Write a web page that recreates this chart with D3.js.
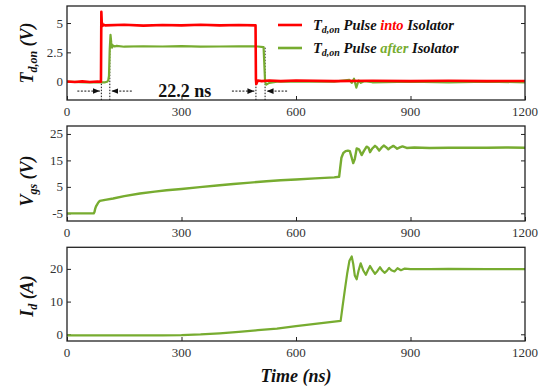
<!DOCTYPE html>
<html>
<head>
<meta charset="utf-8">
<script src="https://cdn.jsdelivr.net/npm/d3@7"></script>
<style>
  html, body { margin: 0; padding: 0; background: #fff; }
  svg { display: block; }
</style>
</head>
<body>
<svg id="chart" width="548" height="390" font-family="'Liberation Serif', 'DejaVu Serif', serif"></svg>
<script>
// ---- data (time in ns) ----
const xTicks = [0, 300, 600, 900, 1200];

// gate pulse into the isolator (V)
const pulseInT = [0, 20, 40, 60, 80, 89, 90, 91, 93, 96, 100, 150, 200, 250, 300, 350, 400, 450, 494, 495, 496, 500, 510, 530, 560, 600, 700, 800, 900, 1000, 1100, 1200];
const pulseInV = [0.02, -0.03, 0.03, -0.02, 0.01, 0.0, 5.95, 5.1, 4.75, 4.85, 4.8, 4.85, 4.78, 4.83, 4.8, 4.85, 4.8, 4.83, 4.8, 0.2, -0.2, 0.1, 0.05, 0.1, 0.05, 0.1, 0.05, 0.08, 0.05, 0.08, 0.05, 0.06];

// gate pulse after the isolator (V)
const pulseOutT = [0, 50, 100, 105, 108, 110, 112, 114, 116, 118, 120, 125, 130, 150, 200, 250, 300, 350, 400, 450, 500, 515, 517, 519, 522, 530, 550, 600, 700, 740, 746, 752, 758, 764, 770, 780, 800, 900, 1000, 1100, 1200];
const pulseOutV = [0, -0.05, -0.05, 0, 0.1, 0.5, 2.8, 4.0, 3.3, 2.9, 3.1, 3.0, 3.05, 2.98, 3.02, 3.0, 3.03, 2.98, 3.0, 3.02, 3.0, 2.95, 1.5, 0.0, -0.25, -0.1, 0.0, 0.0, 0.0, 0.15, -0.1, 0.25, -0.5, 0.1, -0.1, 0.05, -0.05, 0.0, -0.05, 0.0, -0.05];
const pulseTicks = [0, 2.5, 5];

// measured turn-on delay edges
const delayEdges = [[90, 112.2], [495, 519]];
const delayLabel = "22.2 ns";

// gate-source voltage (V)
const vgsT = [0, 40, 70, 72, 74, 76, 78, 82, 86, 100, 121, 150, 191, 230, 261, 300, 348, 400, 436, 480, 523, 560, 600, 650, 700, 713, 716, 719, 724, 730, 736, 741, 746, 750, 754, 759, 765, 772, 778, 785, 790, 794, 800, 807, 812, 818, 824, 830, 836, 842, 848, 855, 860, 865, 872, 879, 890, 910, 950, 1000, 1050, 1100, 1150, 1200];
const vgsV = [-5, -5, -5, -4.5, -3.2, -2.4, -1.9, -0.9, -0.3, 0.1, 0.6, 1.5, 2.5, 3.2, 3.7, 4.2, 4.9, 5.6, 6.1, 6.6, 7.1, 7.5, 7.8, 8.2, 8.6, 8.8, 12.5, 16.0, 17.8, 18.5, 18.7, 18.5, 16.0, 14.0, 15.5, 19.5, 19.2, 17.0, 18.6, 20.2, 19.8, 18.1, 19.5, 20.5, 19.9, 18.7, 19.8, 20.6, 20.0, 19.2, 19.9, 20.5, 20.0, 19.4, 19.9, 20.3, 19.7, 19.9, 19.7, 19.8, 19.8, 19.8, 19.9, 19.8];
const vgsTicks = [-5, 5, 15, 25];

// drain current (A)
const idT = [0, 50, 100, 150, 200, 250, 300, 350, 400, 450, 500, 550, 600, 650, 700, 717, 722, 728, 734, 740, 746, 750, 754, 759, 764, 769.5, 776, 783, 788, 794, 800, 807, 813, 820, 826, 832, 838, 844, 850, 858, 866, 875, 885, 900, 950, 1000, 1100, 1200];
const idV = [-0.3, -0.3, -0.35, -0.3, -0.3, -0.3, -0.25, -0.05, 0.3, 0.75, 1.25, 1.75, 2.5, 3.2, 3.85, 4.1, 8.5, 13.6, 18.5, 22.5, 23.8, 21.5, 18.0, 16.8, 19.5, 21.7, 19.6, 18.2, 19.5, 20.9, 19.7, 18.5, 19.3, 20.5, 19.5, 18.8, 19.4, 20.3, 19.6, 19.2, 20.2, 19.6, 20.1, 19.9, 19.9, 20.0, 19.9, 19.9];
const idTicks = [0, 10, 20];

// ---- drawing ----
const RED = "#ff0000";
const GREEN = "#77ac30";
const svg = d3.select("#chart");

const x = d3.scaleLinear().domain([0, 1200]).range([67, 525]);

const panels = [
  { y: d3.scaleLinear().domain([-1.56, 6.45]).range([100, 6]), ticks: pulseTicks },
  { y: d3.scaleLinear().domain([-7.9, 28]).range([221, 126]), ticks: vgsTicks },
  { y: d3.scaleLinear().domain([-2.05, 26.6]).range([341, 247.3]), ticks: idTicks }
];

const zip = (ts, vs) => ts.map((t, i) => [t, vs[i]]);

panels.forEach((p, i) => {
  const [yb, yt] = p.y.range();
  const g = svg.append("g");

  // inward ticks: bottom, left, right
  const bottom = d3.axisBottom(x).tickValues(xTicks).tickSize(-4).tickFormat("");
  g.append("g").attr("transform", `translate(0,${yb})`).call(bottom);
  const left = d3.axisLeft(p.y).tickValues(p.ticks).tickSize(-4).tickFormat("");
  g.append("g").attr("transform", `translate(${x.range()[0]},0)`).call(left);
  const right = d3.axisRight(p.y).tickValues(p.ticks).tickSize(-4).tickFormat("");
  g.append("g").attr("transform", `translate(${x.range()[1]},0)`).call(right);
  g.selectAll(".domain").remove();
  g.selectAll(".tick line").attr("stroke", "#222").attr("stroke-width", 1);

  // tick labels
  g.selectAll(".xl").data(xTicks).join("text")
    .attr("x", d => x(d)).attr("y", yb + 16)
    .attr("text-anchor", "middle").attr("font-size", 13).attr("fill", "#333")
    .attr("font-family", "'Liberation Serif', serif")
    .text(d => d);
  g.selectAll(".yl").data(p.ticks).join("text")
    .attr("x", x.range()[0] - 4).attr("y", d => p.y(d) + 4.5)
    .attr("text-anchor", "end").attr("font-size", 13).attr("fill", "#333")
    .attr("font-family", "'Liberation Serif', serif")
    .text(d => String(d));
});

// clip paths for each panel
const defs = svg.append("defs");
panels.forEach((p, i) => {
  const [yb, yt] = p.y.range();
  defs.append("clipPath").attr("id", "clip" + i).append("rect")
    .attr("x", x.range()[0]).attr("y", yt)
    .attr("width", x.range()[1] - x.range()[0]).attr("height", yb - yt);
});

defs.append("marker")
  .attr("id", "arrow").attr("viewBox", "0 0 10 10")
  .attr("refX", 10).attr("refY", 5)
  .attr("markerWidth", 7).attr("markerHeight", 7)
  .attr("markerUnits", "userSpaceOnUse")
  .attr("orient", "auto")
  .append("path").attr("d", "M0,1 L10,5 L0,9 Z").attr("fill", "#111");

// panel 1: delay markers
const p1 = panels[0];
delayEdges.forEach(([t0, t1]) => {
  [t0, t1].forEach(t => {
    svg.append("line")
      .attr("x1", x(t)).attr("x2", x(t))
      .attr("y1", p1.y(2.9)).attr("y2", p1.y.range()[0])
      .attr("stroke", "#111").attr("stroke-width", 1).attr("stroke-dasharray", "1.5,1.5");
  });
});

const arrowY = p1.y(-0.8);
delayEdges.forEach(([t0, t1]) => {
  svg.append("line")
    .attr("x1", x(t0) - 24).attr("x2", x(t0) - 1.5)
    .attr("y1", arrowY).attr("y2", arrowY)
    .attr("stroke", "#111").attr("stroke-width", 1).attr("stroke-dasharray", "2,1.5")
    .attr("marker-end", "url(#arrow)");
  svg.append("line")
    .attr("x1", x(t1) + 22).attr("x2", x(t1) + 1.5)
    .attr("y1", arrowY).attr("y2", arrowY)
    .attr("stroke", "#111").attr("stroke-width", 1).attr("stroke-dasharray", "2,1.5")
    .attr("marker-end", "url(#arrow)");
});
svg.append("text")
  .attr("x", (x(delayEdges[0][1]) + x(delayEdges[1][0])) / 2 + 2)
  .attr("y", arrowY + 6)
  .attr("text-anchor", "middle").attr("font-size", 18).attr("font-weight", "bold")
  .attr("fill", "#111")
  .text(delayLabel);

// traces
const line = (p) => d3.line().x(d => x(d[0])).y(d => p.y(d[1]));

svg.append("path").datum(zip(pulseOutT, pulseOutV))
  .attr("clip-path", "url(#clip0)")
  .attr("fill", "none").attr("stroke", GREEN).attr("stroke-width", 2.2)
  .attr("stroke-linejoin", "round").attr("d", line(panels[0]));
svg.append("path").datum(zip(pulseInT, pulseInV))
  .attr("clip-path", "url(#clip0)")
  .attr("fill", "none").attr("stroke", RED).attr("stroke-width", 2.6)
  .attr("stroke-linejoin", "round").attr("d", line(panels[0]));

svg.append("path").datum(zip(vgsT, vgsV))
  .attr("clip-path", "url(#clip1)")
  .attr("fill", "none").attr("stroke", GREEN).attr("stroke-width", 2.4)
  .attr("stroke-linejoin", "round").attr("d", line(panels[1]));

svg.append("path").datum(zip(idT, idV))
  .attr("clip-path", "url(#clip2)")
  .attr("fill", "none").attr("stroke", GREEN).attr("stroke-width", 2.2)
  .attr("stroke-linejoin", "round").attr("d", line(panels[2]));

// panel frames
panels.forEach(p => {
  const [yb, yt] = p.y.range();
  svg.append("rect")
    .attr("x", x.range()[0]).attr("y", yt)
    .attr("width", x.range()[1] - x.range()[0]).attr("height", yb - yt)
    .attr("fill", "none").attr("stroke", "#222").attr("stroke-width", 1.3);
});

// legend
const legend = [
  { color: RED, word: "into" },
  { color: GREEN, word: "after" }
];
legend.forEach((l, i) => {
  const ly = 25 + i * 23;
  svg.append("line").attr("x1", 278).attr("x2", 302).attr("y1", ly).attr("y2", ly)
    .attr("stroke", l.color).attr("stroke-width", 2.6);
  const t = svg.append("text").attr("x", 313).attr("y", ly + 5)
    .attr("font-size", 14.5).attr("font-weight", "bold").attr("font-style", "italic").attr("fill", "#111");
  t.append("tspan").text("T");
  t.append("tspan").attr("font-size", 10).attr("dy", 3).text("d,on");
  t.append("tspan").attr("dy", -3).text(" Pulse ");
  t.append("tspan").attr("fill", l.color).text(l.word);
  t.append("tspan").text(" Isolator");
});

// axis titles
function yTitle(cx, cy, main, sub, unit) {
  const t = svg.append("text")
    .attr("transform", `translate(${cx},${cy}) rotate(-90)`)
    .attr("text-anchor", "middle")
    .attr("font-size", 18).attr("font-weight", "bold").attr("font-style", "italic").attr("fill", "#111");
  t.append("tspan").text(main);
  t.append("tspan").attr("font-size", 12).attr("dy", 4).text(sub);
  t.append("tspan").attr("dy", -4).text(" " + unit);
}
yTitle(33, 53, "T", "d,on", "(V)");
yTitle(33, 181, "V", "gs", "(V)");
yTitle(33, 296, "I", "d", "(A)");

svg.append("text")
  .attr("x", 296).attr("y", 382)
  .attr("text-anchor", "middle")
  .attr("font-size", 18).attr("font-weight", "bold").attr("font-style", "italic").attr("fill", "#111")
  .text("Time (ns)");
</script>
</body>
</html>
